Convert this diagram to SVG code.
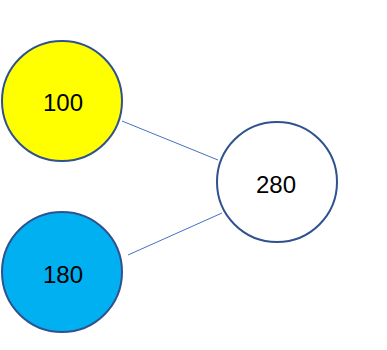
<svg xmlns="http://www.w3.org/2000/svg" width="387" height="350" viewBox="0 0 387 350">
<style>
.n{stroke:#2f528f;stroke-width:2}
.t{font-family:"Liberation Sans","DejaVu Sans",sans-serif;font-size:24px;fill:#000;text-anchor:middle;dominant-baseline:central}
.c{stroke:#4472c4;stroke-width:1;fill:none}
</style>
<rect width="387" height="350" fill="#fff"/>
<g id="connectors">
<line class="c" x1="122" y1="121" x2="218" y2="160"/>
<line class="c" x1="128" y1="255" x2="222" y2="213"/>
</g>
<g id="n100"><circle class="n" cx="62" cy="101" r="60" fill="#ffff00"/><text class="t" x="63" y="102">100</text></g>
<g id="n180"><circle class="n" cx="62" cy="272" r="60" fill="#00b0f0"/><text class="t" x="63" y="274">180</text></g>
<g id="n280"><circle class="n" cx="277" cy="182" r="60" fill="#ffffff"/><text class="t" x="276" y="184">280</text></g>
</svg>
